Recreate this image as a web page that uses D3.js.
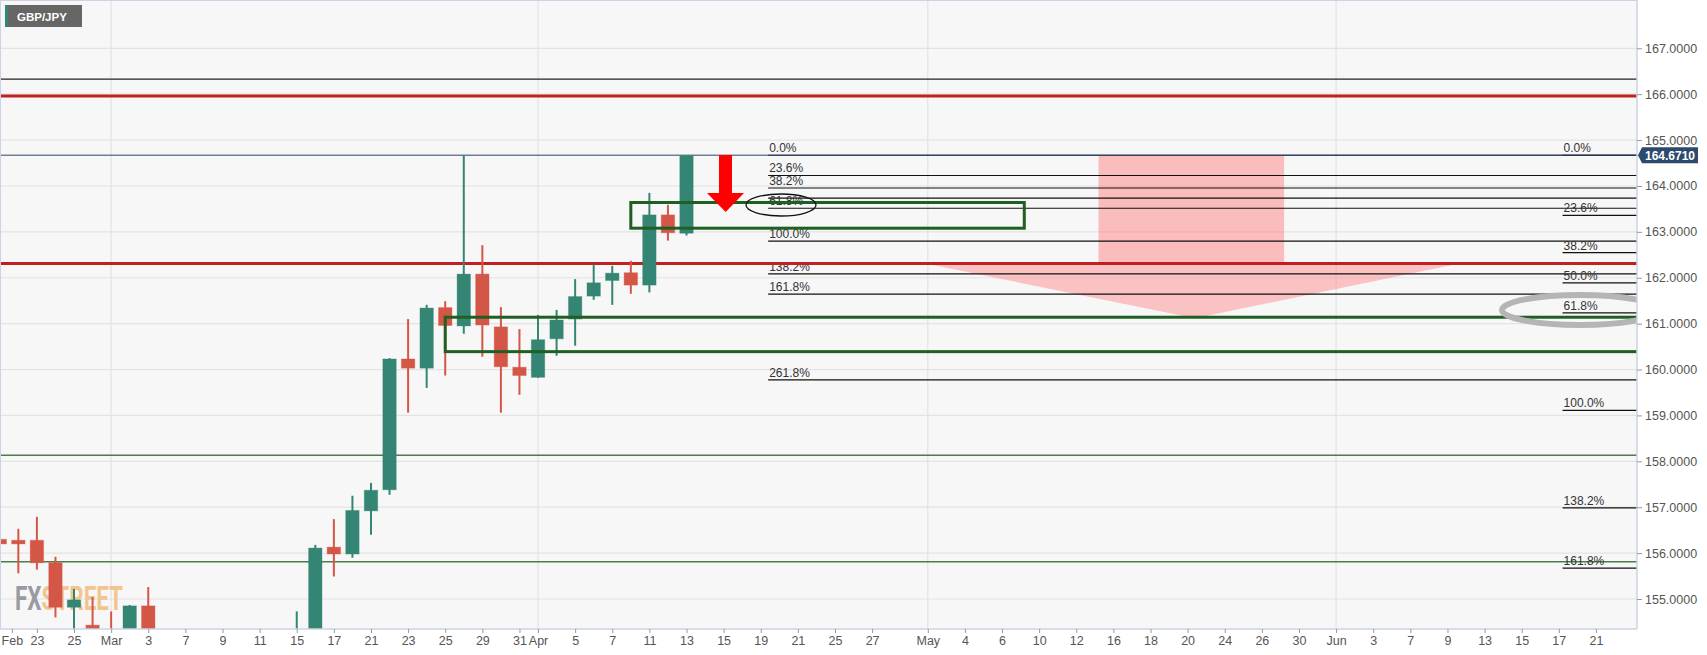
<!DOCTYPE html>
<html>
<head>
<meta charset="utf-8">
<script src="https://cdn.jsdelivr.net/npm/d3@7"></script>
<style>
  body { margin: 0; background: #fff; }
  svg { display: block; font-family: "Liberation Sans Narrow", "Roboto", sans-serif; }
</style>
</head>
<body>
<div id="chart"></div>
<script>
// trading-day index (0 = Feb 23) and daily OHLC
const dayIdx = [-2, -1, 0, 1, 2, 3, 4, 5, 6, 7, 8, 9, 10, 11, 12, 13, 14, 15, 16, 17, 18, 19, 20, 21, 22, 23, 24, 25, 26, 27, 28, 29, 30, 31, 32, 33, 34, 35];
const opens  = [156.30, 156.28, 156.28, 155.79, 154.82, 154.43, 153.90, 153.60, 154.85, 153.90, 153.40, 152.80, 153.20, 152.90, 153.10, 152.80, 153.00, 153.80, 156.13, 155.98, 156.92, 157.38, 160.23, 160.03, 161.35, 160.95, 162.08, 160.93, 160.05, 159.83, 160.67, 161.10, 161.60, 161.94, 162.11, 161.84, 163.37, 162.97];
const highs  = [156.77, 156.53, 156.79, 155.92, 155.22, 155.04, 154.73, 154.87, 155.26, 154.10, 153.70, 153.50, 153.60, 153.40, 153.40, 153.30, 154.73, 156.18, 156.74, 157.25, 157.53, 160.25, 161.10, 161.41, 161.49, 164.67, 162.71, 161.36, 160.88, 161.19, 161.30, 161.97, 162.29, 162.26, 162.37, 163.85, 163.59, 164.67];
const lows   = [156.05, 155.56, 155.64, 154.60, 154.00, 153.60, 153.20, 153.50, 153.60, 153.10, 152.60, 152.50, 152.70, 152.60, 152.50, 152.40, 152.80, 153.70, 155.49, 155.90, 156.40, 157.27, 159.06, 159.60, 159.87, 160.78, 160.28, 159.06, 159.45, 159.82, 160.30, 160.52, 161.52, 161.41, 161.65, 161.68, 162.81, 162.92];
const closes = [156.20, 156.20, 155.79, 154.82, 154.98, 153.90, 153.60, 154.85, 153.90, 153.40, 152.80, 153.20, 152.90, 153.10, 152.80, 153.00, 153.80, 156.11, 155.98, 156.93, 157.37, 160.23, 160.03, 161.34, 160.96, 162.08, 160.97, 160.06, 159.87, 160.65, 161.08, 161.59, 161.89, 162.10, 161.84, 163.37, 162.98, 164.66];

const tickIdx    = [-1.35, 0, 2, 4, 6, 8, 10, 12, 14, 16, 18, 20, 22, 24, 26, 27, 29, 31, 33, 35, 37, 39, 41, 43, 45, 48, 50, 52, 54, 56, 58, 60, 62, 64, 66, 68, 70, 72, 74, 76, 78, 80, 82, 84];
const tickLabels = ["Feb", "23", "25", "Mar", "3", "7", "9", "11", "15", "17", "21", "23", "25", "29", "31", "Apr", "5", "7", "11", "13", "15", "19", "21", "25", "27", "May", "4", "6", "10", "12", "16", "18", "20", "24", "26", "30", "Jun", "3", "7", "9", "13", "15", "17", "21"];
const monthIdx = [4, 27, 48, 70];
const priceTicks = [155, 156, 157, 158, 159, 160, 161, 162, 163, 164, 165, 166, 167];

const lastPrice = 164.671;
const blackLevels = [166.33];
const redLevels = [165.96, 162.31];
const thinGreenLevels = [158.13, 155.81];

const fib1Levels = [0, 0.236, 0.382, 0.5, 0.618, 1, 1.382, 1.618, 2.618];
const fib1Labels = ["0.0%", "23.6%", "38.2%", "", "61.8%", "100.0%", "138.2%", "161.8%", "261.8%"];
const fib1High = 164.67, fib1Low = 162.80, fib1Start = 39.4;
const fib2Levels = [0, 0.236, 0.382, 0.5, 0.618, 1, 1.382, 1.618];
const fib2Labels = ["0.0%", "23.6%", "38.2%", "50.0%", "61.8%", "100.0%", "138.2%", "161.8%"];
const fib2High = 164.67, fib2Low = 159.11, fib2Start = 82.2;

// [startIdx, endIdx, topPrice, bottomPrice]
const boxSmall = [32.0, 53.2, 163.64, 163.08];
const boxLarge = [22.0, 90, 161.14, 160.39];
const pinkRect = [57.2, 67.2, 164.67, 162.33];
const pinkTri = [[47.6, 162.33], [76.9, 162.33], [62.4, 161.12]];

const W = 1707, H = 655;
const plotR = 1637, plotB = 629;

const svg = d3.select("#chart").append("svg")
  .attr("width", W).attr("height", H);

const x = d3.scaleLinear().domain([0, 84]).range([36.9, 36.9 + 84 * 18.56]);
const y = d3.scaleLinear().domain([155, 167]).range([599, 48.3]);

svg.append("rect").attr("width", W).attr("height", H).attr("fill", "#fff");
svg.append("rect").attr("width", plotR).attr("height", plotB).attr("fill", "#f7f7f7");

svg.append("defs").append("clipPath").attr("id", "clip")
  .append("rect").attr("width", plotR).attr("height", plotB);

const plot = svg.append("g").attr("clip-path", "url(#clip)");

// grid
plot.selectAll(".hg").data(priceTicks).enter().append("line")
  .attr("x1", 0).attr("x2", plotR)
  .attr("y1", d => y(d)).attr("y2", d => y(d))
  .attr("stroke", "#e3e3e3").attr("stroke-width", 1.2);
plot.selectAll(".vg").data(monthIdx).enter().append("line")
  .attr("x1", d => x(d)).attr("x2", d => x(d))
  .attr("y1", 0).attr("y2", plotB)
  .attr("stroke", "#e3e3e3").attr("stroke-width", 1.2);

// watermark
const wm = plot.append("text").attr("x", 15).attr("y", 610)
  .attr("font-size", 33).attr("font-weight", "bold")
  .attr("textLength", 108).attr("lengthAdjust", "spacingAndGlyphs");
wm.append("tspan").attr("fill", "#9a9aa2").text("FX");
wm.append("tspan").attr("fill", "#f2c48e").text("STREET");

// pink projection
plot.append("rect")
  .attr("x", x(pinkRect[0])).attr("width", x(pinkRect[1]) - x(pinkRect[0]))
  .attr("y", y(pinkRect[2])).attr("height", y(pinkRect[3]) - y(pinkRect[2]))
  .attr("fill", "#ff6b6b").attr("fill-opacity", 0.42);
plot.append("polygon")
  .attr("points", pinkTri.map(p => [x(p[0]), y(p[1])].join(",")).join(" "))
  .attr("fill", "#ff6b6b").attr("fill-opacity", 0.38);

// thin green levels
plot.selectAll(".tg").data(thinGreenLevels).enter().append("line")
  .attr("x1", 0).attr("x2", plotR)
  .attr("y1", d => y(d)).attr("y2", d => y(d))
  .attr("stroke", "#4b7d4b").attr("stroke-width", 1.5);

// fib lines
function fib(levels, labels, hi, lo, start) {
  const g = plot.append("g");
  levels.forEach((f, i) => {
    const p = hi - (hi - lo) * f;
    g.append("line")
      .attr("x1", x(start)).attr("x2", plotR)
      .attr("y1", y(p)).attr("y2", y(p))
      .attr("stroke", "#111").attr("stroke-width", 1.2);
    if (labels[i]) {
      g.append("text").attr("x", x(start) + 1).attr("y", y(p) - 3)
        .attr("font-family", "Arial, 'Liberation Sans', sans-serif")
        .attr("font-size", 12).attr("fill", "#333").text(labels[i]);
    }
  });
}
fib(fib1Levels, fib1Labels, fib1High, fib1Low, fib1Start);
fib(fib2Levels, fib2Labels, fib2High, fib2Low, fib2Start);

// horizontal levels
plot.selectAll(".bl").data(blackLevels).enter().append("line")
  .attr("x1", 0).attr("x2", plotR)
  .attr("y1", d => y(d)).attr("y2", d => y(d))
  .attr("stroke", "#222").attr("stroke-width", 1.2);
plot.selectAll(".rl").data(redLevels).enter().append("line")
  .attr("x1", 0).attr("x2", plotR)
  .attr("y1", d => y(d)).attr("y2", d => y(d))
  .attr("stroke", "#c0201f").attr("stroke-width", 3);
plot.append("line")
  .attr("x1", 0).attr("x2", plotR)
  .attr("y1", y(lastPrice)).attr("y2", y(lastPrice))
  .attr("stroke", "#2c4569").attr("stroke-width", 1);

// candles
const candles = dayIdx.map((d, i) => ({ i: d, o: opens[i], h: highs[i], l: lows[i], c: closes[i] }));
const cg = plot.selectAll(".candle").data(candles).enter().append("g");
const col = d => d.c >= d.o ? "#348573" : "#d45646";
cg.append("line")
  .attr("x1", d => x(d.i)).attr("x2", d => x(d.i))
  .attr("y1", d => y(d.h)).attr("y2", d => y(d.l))
  .attr("stroke", col).attr("stroke-width", 2);
cg.append("rect")
  .attr("x", d => x(d.i) - 6.7).attr("width", 13.4)
  .attr("y", d => y(Math.max(d.o, d.c)))
  .attr("height", d => Math.max(1.5, Math.abs(y(d.o) - y(d.c))))
  .attr("fill", col).attr("stroke", col).attr("stroke-opacity", 0.35);

// green boxes
[boxSmall, boxLarge].forEach(b => {
  plot.append("rect")
    .attr("x", x(b[0])).attr("width", x(b[1]) - x(b[0]))
    .attr("y", y(b[2])).attr("height", y(b[3]) - y(b[2]))
    .attr("fill", "none").attr("stroke", "#1f5f22").attr("stroke-width", 3);
});

// ellipses
plot.append("ellipse").attr("cx", 781).attr("cy", 205).attr("rx", 35).attr("ry", 11)
  .attr("fill", "none").attr("stroke", "#111").attr("stroke-width", 1.3);
plot.append("ellipse").attr("cx", 1580).attr("cy", 310).attr("rx", 78).attr("ry", 15)
  .attr("fill", "none").attr("stroke", "#b5b5b5").attr("stroke-width", 6);

// red arrow
plot.append("path")
  .attr("d", "M719,155 L732,155 L732,193 L744,193 L725.7,212 L707,193 L719,193 Z")
  .attr("fill", "#ff0000");

// borders
svg.append("line").attr("x1", plotR).attr("x2", plotR).attr("y1", 0).attr("y2", plotB)
  .attr("stroke", "#cdd3e6").attr("stroke-width", 1.5);
svg.append("line").attr("x1", 0).attr("x2", plotR).attr("y1", plotB).attr("y2", plotB)
  .attr("stroke", "#cdd3e6").attr("stroke-width", 1.5);
svg.append("line").attr("x1", 0.5).attr("x2", 0.5).attr("y1", 0).attr("y2", plotB)
  .attr("stroke", "#cdd3e6");
svg.append("line").attr("x1", 0).attr("x2", plotR).attr("y1", 0.5).attr("y2", 0.5)
  .attr("stroke", "#cdd3e6");

// axes
const yAxis = svg.append("g").attr("transform", `translate(${plotR},0)`)
  .call(d3.axisRight(y).tickValues(priceTicks).tickFormat(d3.format(".4f")).tickSize(5));
yAxis.select(".domain").remove();
yAxis.selectAll("line").attr("stroke", "#999");
yAxis.selectAll("text").attr("fill", "#555").attr("font-size", 12.5)
  .attr("font-family", "Arial, 'Liberation Sans', sans-serif");

const xAxis = svg.append("g").attr("transform", `translate(0,${plotB})`)
  .call(d3.axisBottom(x).tickValues(tickIdx).tickFormat((d, i) => tickLabels[i]).tickSize(4));
xAxis.select(".domain").remove();
xAxis.selectAll("line").attr("stroke", "#999");
xAxis.selectAll("text").attr("fill", "#555").attr("font-size", 12.5);

// last price tag
const tag = svg.append("g").attr("transform", `translate(1638,${y(lastPrice)})`);
tag.append("path").attr("d", "M0,0 L4,-8 L60,-8 L60,8 L4,8 Z").attr("fill", "#2d4a6e");
tag.append("text").attr("x", 32).attr("y", 4.5).attr("text-anchor", "middle")
  .attr("fill", "#fff").attr("font-weight", "bold").attr("font-size", 12)
  .attr("font-family", "Arial, 'Liberation Sans', sans-serif").text("164.6710");

// symbol badge
svg.append("rect").attr("x", 5).attr("y", 5).attr("width", 77).attr("height", 22).attr("fill", "#666");
svg.append("rect").attr("x", 5).attr("y", 5).attr("width", 3).attr("height", 22).attr("fill", "#348573");
svg.append("text").attr("x", 17).attr("y", 21).attr("fill", "#fff")
  .attr("font-family", "Arial, 'Liberation Sans', sans-serif").attr("font-weight", "bold")
  .attr("font-size", 11.5).text("GBP/JPY");
</script>
</body>
</html>
